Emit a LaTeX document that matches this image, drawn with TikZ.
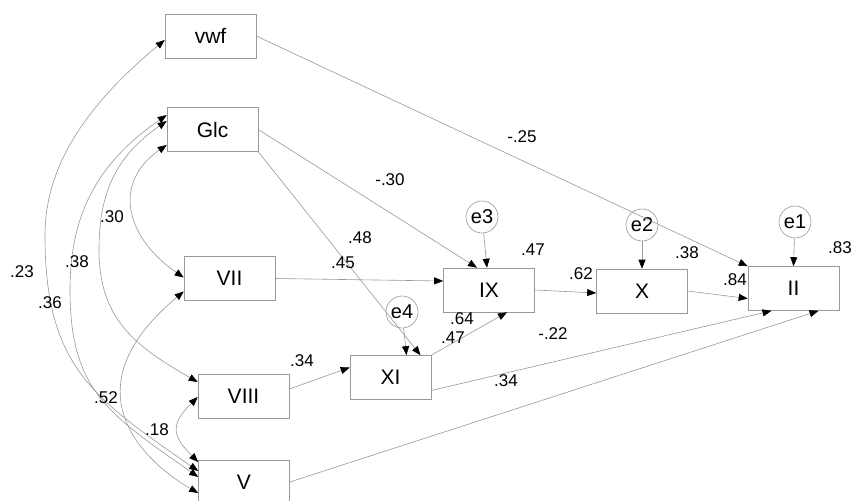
\documentclass[tikz,border=0pt]{standalone}
\usepackage{fontspec}
\setmainfont{Liberation Sans}
\usetikzlibrary{arrows.meta,calc}

\tikzset{
  var/.style={draw=black!40, line width=0.6pt, minimum width=91pt, minimum height=44pt, inner sep=0pt, font=\fontsize{21}{24}\selectfont},
  err/.style={draw=black!40, line width=0.6pt, circle, minimum size=32pt, inner sep=0pt, font=\fontsize{20}{22}\selectfont},
  coef/.style={inner sep=0pt, font=\fontsize{17}{20}\selectfont},
  reg/.style={draw=black!40, line width=0.6pt, ->},
  cov/.style={draw=black!40, line width=0.6pt, <->},
  >={Triangle[length=9pt,width=7pt,color=black]}
}

\begin{document}
\begin{tikzpicture}[x=1pt,y=-1pt]
\path[use as bounding box, fill=white] (0,0) rectangle (852,501);
% Drawing observed variables
\node[var] (vwf) at (210.5,36) {vwf};
\node[var] (Glc) at (212.5,129.5) {Glc};
\node[var] (VII) at (229.5,278.5) {VII};
\node[var] (VIII) at (243.5,396) {VIII};
\node[var] (V) at (244,482) {V};
\node[var] (IX) at (489,290) {IX};
\node[var, minimum width=81pt] (XI) at (390.5,377.5) {XI};
\node[var] (X) at (642,291) {X};
\node[var] (II) at (793.5,288.5) {II};
% Drawing error terms
\node[err] (e3) at (482,217) {e3};
\node[err] (e4) at (402,312) {e4};
\node[err] (e2) at (642,225) {e2};
\node[err] (e1) at (795,222) {e1};
% Done with variables; drawing regression paths
\draw[reg] (vwf.east) -- (II.north west);
\draw[reg] (Glc.east) -- ($(IX.north)+(-12,0)$);
\draw[reg] (Glc.south east) -- ($(XI.north)+(30,0)$);
\draw[reg] (VII.east) -- ($(IX.west)+(0,-9)$);
\draw[reg] (e3) -- ($(IX.north)+(-2,0)$);
\draw[reg] (e4) -- ($(XI.north)+(16,0)$);
\draw[reg] ($(VIII.east)+(0,-7)$) -- ($(XI.west)+(0,-10)$);
\draw[reg] (XI.north east) -- ($(IX.south)+(18,0)$);
\draw[reg] (IX.east) -- ($(X.west)+(0,2)$);
\draw[reg] (e2) -- (X.north);
\draw[reg] (X.east) -- ($(II.west)+(0,10)$);
\draw[reg] (e1) -- (II.north);
\draw[reg] ($(XI.east)+(0,13)$) -- ($(II.south)+(-22,0)$);
\draw[reg] (V.east) -- ($(II.south)+(25,0)$);
% Drawing covariances
\coordinate (bendVwfV) at (45,235);
\coordinate (bendGlcV) at (70,290);
\coordinate (bendGlcVIII) at (99,250);
\draw[cov] ($(V.west)+(0,-11)$) .. controls +(-107,-74) and +(0,130) .. (bendVwfV)
  .. controls +(0,-70) and +(-77,64) .. ($(vwf.west)+(0,4)$);
\draw[cov] ($(V.west)+(0,-5)$) .. controls +(-90,-63) and +(0,100) .. (bendGlcV)
  .. controls +(0,-80) and +(-66,46) .. ($(Glc.west)+(0,-14.5)$);
\draw[cov] ($(VIII.west)+(0,-14)$) .. controls +(-61,-35) and +(0,70) .. (bendGlcVIII)
  .. controls +(0,-60) and +(-49,34) .. ($(Glc.west)+(0,-8.5)$);
\draw[cov] ($(VII.west)+(0,-1)$) .. controls +(-58,-40) and +(-55,38) .. ($(Glc.west)+(0,15.5)$);
\draw[cov] ($(VII.west)+(0,13)$) .. controls +(-122,102) and +(-47,-27) .. ($(V.west)+(0,11)$);
\draw[cov] ($(VIII.west)+(0,1)$) .. controls +(-27,27) and +(-27,-27) .. ($(V.west)+(0,-20)$);
% Drawing estimates
\node[coef] (bVwfII) at (522,137) {-.25};
\node[coef] (bGlcIX) at (390,180) {-.30};
\node[coef] (bGlcXI) at (360,238) {.48};
\node[coef] (bVIIIX) at (343,263) {.45};
\node[coef] (rIX) at (533,250) {.47};
\node[coef] (bXIIX) at (462,319) {.64};
\node[coef] (rXI) at (453,338) {.47};
\node[coef] (bVIIIXI) at (302,361) {.34};
\node[coef] (bXIII) at (553,334) {-.22};
\node[coef] (bVII) at (506,381) {.34};
\node[coef] (bIXX) at (581,274) {.62};
\node[coef] (rX) at (687,253) {.38};
\node[coef] (bXII) at (735,280) {.84};
\node[coef] (rII) at (840,248) {.83};
\node[coef] (cGlcVII) at (112,217) {.30};
\node[coef] (cVwfV) at (22,272) {.23};
\node[coef] (cGlcVIII) at (77,262) {.38};
\node[coef] (cGlcV) at (50,303) {.36};
\node[coef] (cVIIV) at (106,398) {.52};
\node[coef] (cVIIIV) at (157,430) {.18};
% Done with estimates
\end{tikzpicture}
\end{document}
